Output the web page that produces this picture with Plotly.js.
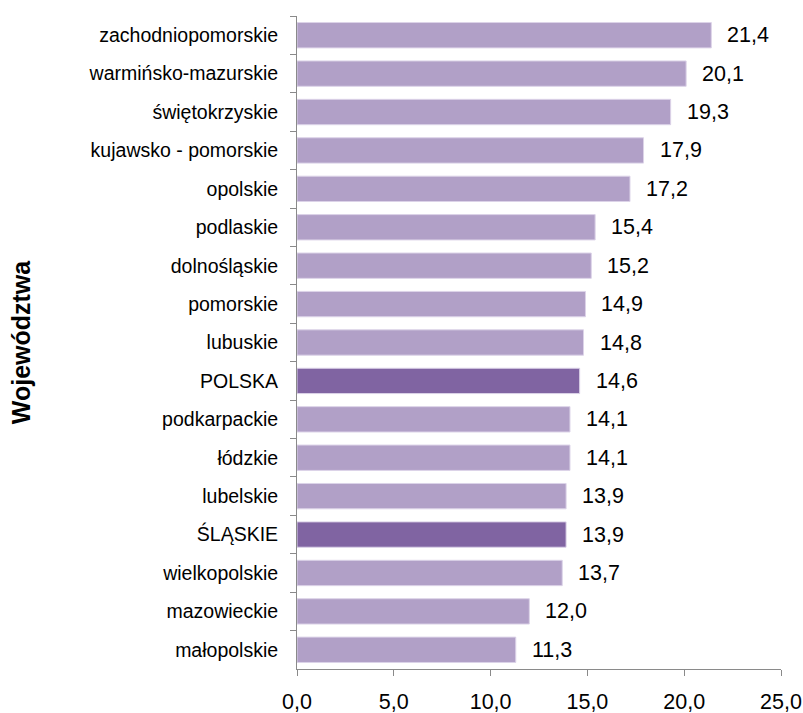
<!DOCTYPE html>
<html>
<head>
<meta charset="utf-8">
<script src="https://cdn.plot.ly/plotly-3.0.1.min.js"></script>
<style>html,body{margin:0;padding:0;background:#fff;}#chart{width:803px;height:713px;}</style>
</head>
<body>
<div id="chart"></div>
<script>
const categories = ["zachodniopomorskie","warmińsko-mazurskie","świętokrzyskie","kujawsko - pomorskie","opolskie","podlaskie","dolnośląskie","pomorskie","lubuskie","POLSKA","podkarpackie","łódzkie","lubelskie","ŚLĄSKIE","wielkopolskie","mazowieckie","małopolskie"];
const values = [21.4,20.1,19.3,17.9,17.2,15.4,15.2,14.9,14.8,14.6,14.1,14.1,13.9,13.9,13.7,12.0,11.3];
const highlighted = ["POLSKA","ŚLĄSKIE"];
const xTicks = [0,5,10,15,20,25];

const fmt = v => v.toFixed(1).replace('.', ',');
const colors = categories.map(c => highlighted.includes(c) ? '#8064A2' : '#B1A0C7');
const numFont = 'Liberation Sans, Arial, sans-serif';

const trace = {
  type: 'bar', orientation: 'h',
  x: values, y: categories,
  marker: {color: colors, line: {color: '#DCD3E8', width: 1}},
  width: 0.66,
  hoverinfo: 'x+y'
};

const annotations = values.map((v, i) => ({
  x: v, y: categories[i], xref: 'x', yref: 'y',
  text: fmt(v), showarrow: false, xanchor: 'left', xshift: 14,
  font: {family: numFont, size: 21.5, color: '#000'}
}));

const layout = {
  width: 803, height: 713,
  margin: {l: 297, r: 22, t: 16, b: 44},
  paper_bgcolor: '#fff', plot_bgcolor: '#fff',
  separators: ',.',
  showlegend: false,
  font: {family: 'Liberation Sans, Arial, sans-serif', color: '#000'},
  xaxis: {
    range: [0, 25], tickvals: xTicks, ticktext: xTicks.map(fmt),
    showgrid: false, zeroline: false,
    showline: true, linecolor: '#8A8A8A', linewidth: 1,
    ticks: 'outside', ticklen: 6, tickcolor: '#8A8A8A',
    tickfont: {family: numFont, size: 21.5, color: '#000'},
    ticklabeloverflow: 'allow',
    ticklabelstandoff: 7
  },
  yaxis: {
    type: 'category', autorange: 'reversed',
    showgrid: false, zeroline: false,
    showline: true, linecolor: '#8A8A8A', linewidth: 1,
    ticks: 'outside', ticklen: 6, tickcolor: '#8A8A8A', tickson: 'boundaries',
    tickfont: {size: 19.5, color: '#000'},
    ticklabelstandoff: 14,
    title: {text: 'Województwa', font: {size: 25, color: '#000', weight: 'bold'}, standoff: 50}
  },
  annotations: annotations
};

Plotly.newPlot('chart', [trace], layout, {displayModeBar: false, staticPlot: true});
</script>
</body>
</html>
